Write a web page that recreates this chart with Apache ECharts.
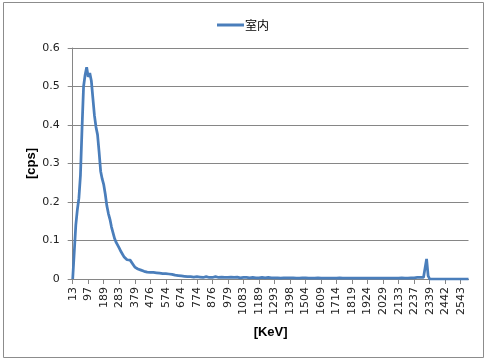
<!DOCTYPE html>
<html>
<head>
<meta charset="utf-8">
<script src="https://cdn.jsdelivr.net/npm/echarts@6/dist/echarts.min.js"></script>
<style>
html,body{margin:0;padding:0;background:#fff;}
#c{width:486px;height:362px;}
</style>
</head>
<body>
<div id="c"></div>
<script>
// Tick labels (energy in keV) shown every 10th channel
var tickLabels = ['13','97','189','283','379','476','574','674','774','876','979','1083','1189','1293','1398','1504','1609','1714','1819','1924','2029','2133','2237','2339','2442','2543'];
var labelStep = 10;
var seriesName = '室内';
// Count rate per channel [cps], 256 channels
var cps = [
0, 0, 0.14, 0.18, 0.21, 0.27, 0.39, 0.50, 0.53, 0.55,
0.525, 0.535, 0.515, 0.47, 0.425, 0.395, 0.375, 0.33, 0.28, 0.26,
0.245, 0.22, 0.19, 0.17, 0.155, 0.135, 0.13, 0.105, 0.095, 0.09,
0.08, 0.072, 0.065, 0.058, 0.053, 0.05, 0.05, 0.049, 0.045, 0.037,
0.031, 0.028, 0.026, 0.025, 0.023, 0.021, 0.02, 0.019, 0.018, 0.018,
0.017, 0.017, 0.017, 0.016, 0.016, 0.015, 0.015, 0.014, 0.014, 0.013,
0.014, 0.013, 0.013, 0.012, 0.012, 0.011, 0.010, 0.009, 0.009, 0.008,
0.008, 0.007, 0.007, 0.006, 0.006, 0.005, 0.006, 0.006, 0.005, 0.005,
0.006, 0.005, 0.005, 0.005, 0.004, 0.005, 0.006, 0.005, 0.004, 0.005,
0.004, 0.005, 0.006, 0.005, 0.004, 0.004, 0.005, 0.004, 0.004, 0.005,
0.004, 0.004, 0.005, 0.004, 0.004, 0.004, 0.005, 0.004, 0.003, 0.004,
0.004, 0.003, 0.004, 0.005, 0.003, 0.003, 0.004, 0.003, 0.003, 0.004,
0.003, 0.003, 0.004, 0.003, 0.003, 0.003, 0.004, 0.003, 0.003, 0.003,
0.003, 0.004, 0.003, 0.003, 0.002, 0.003, 0.003, 0.002, 0.003, 0.003,
0.003, 0.002, 0.003, 0.003, 0.002, 0.003, 0.002, 0.003, 0.003, 0.002,
0.003, 0.002, 0.002, 0.003, 0.002, 0.003, 0.002, 0.002, 0.003, 0.002,
0.002, 0.003, 0.002, 0.002, 0.002, 0.003, 0.002, 0.002, 0.002, 0.003,
0.002, 0.002, 0.003, 0.002, 0.002, 0.002, 0.002, 0.003, 0.002, 0.002,
0.002, 0.002, 0.002, 0.003, 0.002, 0.002, 0.002, 0.002, 0.002, 0.003,
0.002, 0.002, 0.002, 0.002, 0.002, 0.003, 0.002, 0.002, 0.002, 0.002,
0.002, 0.003, 0.002, 0.002, 0.002, 0.002, 0.002, 0.003, 0.002, 0.002,
0.002, 0.002, 0.003, 0.002, 0.002, 0.002, 0.002, 0.002, 0.003, 0.002,
0.003, 0.003, 0.004, 0.003, 0.004, 0.004, 0.004, 0.006, 0.052, 0.008,
0, 0, 0, 0, 0, 0, 0, 0, 0, 0,
0, 0, 0, 0, 0, 0, 0, 0, 0, 0,
0, 0, 0, 0, 0, 0
];

var channels = cps.map(function (v, i) { return String(i); });

var chart = echarts.init(document.getElementById('c'), null, {renderer: 'canvas'});
var gridColor = '#868686';
var lineColor = '#4a7ebb';
var font = 'DejaVu Sans';
var titleFont = 'Liberation Sans';
chart.setOption({
  animation: false,
  backgroundColor: '#ffffff',
  graphic: [{
    type: 'rect',
    shape: {x: 3.5, y: 2.5, width: 480, height: 355},
    style: {fill: 'none', stroke: '#8c8c8c', lineWidth: 1},
    silent: true
  }],
  legend: {
    top: 14,
    left: 'center',
    itemWidth: 27,
    itemHeight: 3,
    textStyle: {fontFamily: '"Noto Sans CJK JP"', fontSize: 12, color: '#000', padding: [0, 0, 0, -4]},
    data: [{name: seriesName, icon: 'rect', itemStyle: {color: lineColor}}]
  },
  grid: {left: 72.7, right: 17.5, top: 48, bottom: 83, containLabel: false},
  xAxis: {
    type: 'category',
    data: channels,
    boundaryGap: false,
    name: '[KeV]',
    nameLocation: 'middle',
    nameGap: 47,
    nameMoveOverlap: false,
    nameTextStyle: {fontFamily: titleFont, fontSize: 13, fontWeight: 'bold', color: '#000'},
    axisLine: {lineStyle: {color: gridColor, width: 1}},
    axisTick: {show: true, interval: labelStep - 1, length: 5, lineStyle: {color: gridColor}},
    axisLabel: {
      interval: labelStep - 1,
      rotate: 90,
      margin: 8,
      fontFamily: font,
      fontSize: 11,
      color: '#222',
      formatter: function (v, idx) {
        return idx % labelStep === 0 ? tickLabels[idx / labelStep] : '';
      }
    },
    splitLine: {show: false}
  },
  yAxis: {
    type: 'value',
    min: 0,
    max: 0.6,
    interval: 0.1,
    name: '[cps]',
    nameLocation: 'middle',
    nameGap: 35,
    nameMoveOverlap: false,
    nameTextStyle: {fontFamily: titleFont, fontSize: 13, fontWeight: 'bold', color: '#000'},
    axisLine: {show: true, lineStyle: {color: gridColor, width: 1}},
    axisTick: {show: true, length: 5, lineStyle: {color: gridColor}},
    axisLabel: {margin: 13, fontFamily: font, fontSize: 11, color: '#222'},
    splitLine: {show: true, lineStyle: {color: gridColor, width: 1}}
  },
  series: [{
    name: seriesName,
    type: 'line',
    data: cps,
    symbol: 'none',
    smooth: false,
    lineStyle: {color: lineColor, width: 2.75},
    itemStyle: {color: lineColor}
  }]
});
</script>
</body>
</html>
